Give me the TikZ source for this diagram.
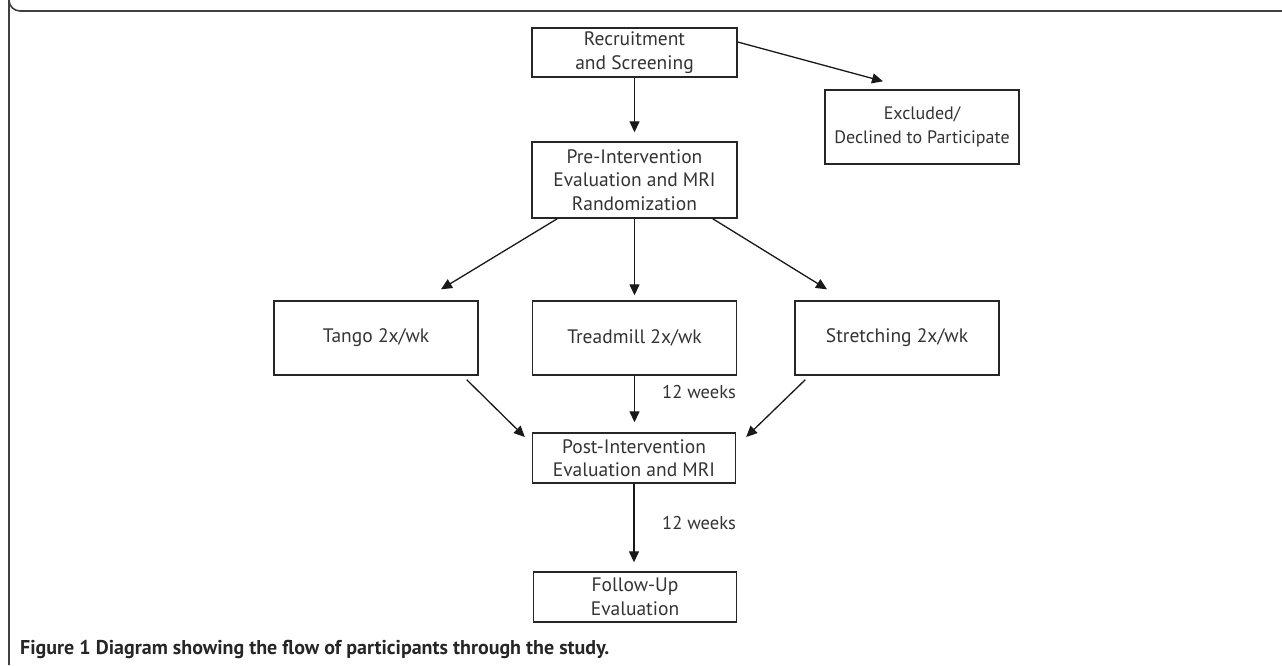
\documentclass[tikz,border=0pt]{standalone}
\usepackage{fontspec}
\setmainfont{PT Sans}
\usetikzlibrary{arrows.meta,calc}
\begin{document}
\begin{tikzpicture}[x=1pt,y=-1pt,
  box/.style={draw=black!85,line width=1.4pt,inner sep=0pt,align=center,
    font=\fontsize{19.5}{23.5}\selectfont,text=black!80},
  arr/.style={draw=black!90,line width=1.3pt,-{Triangle[length=11pt,width=10pt]}},
  lbl/.style={font=\fontsize{18.5}{20}\selectfont,text=black!80,inner sep=0pt,anchor=west},
  frame/.style={draw=black!75,line width=1.6pt}]
\useasboundingbox (0,0) rectangle (1282,665);
\draw[frame] (1282,11) -- (20,11) arc[start angle=90,end angle=180,radius=11] -- (9,665);
\node[box,minimum width=205pt,minimum height=49pt] (rec) at (634.5,52.5) {Recruitment\\and Screening};
\node[box,minimum width=194pt,minimum height=74pt,font=\fontsize{18}{23.5}\selectfont] (exc) at (922,127) {Excluded/\\Declined to Participate};
\node[box,minimum width=205pt,minimum height=76pt] (pre) at (634.5,180) {Pre-Intervention\\Evaluation and MRI\\Randomization};
\node[box,minimum width=204pt,minimum height=74pt] (tango) at (376,338) {Tango 2x/wk};
\node[box,minimum width=204pt,minimum height=74pt] (tread) at (634.5,338) {Treadmill 2x/wk};
\node[box,minimum width=204pt,minimum height=74pt] (stretch) at (897,338) {Stretching 2x/wk};
\node[box,minimum width=203pt,minimum height=50pt] (post) at (634,458) {Post-Intervention\\Evaluation and MRI};
\node[box,minimum width=203pt,minimum height=50pt] (fol) at (635,597) {Follow-Up\\Evaluation};
\node[lbl] (w1) at (662,392) {12 weeks};
\node[lbl] (w2) at (662,523) {12 weeks};
\node[anchor=base west,inner sep=0pt,font=\fontsize{20}{22}\selectfont\bfseries,text=black!85] (cap) at (20,654) {Figure 1 Diagram showing the flow of participants through the study.};
% free ends
\coordinate (recE) at ($(rec.east)+(0,-10.5)$);
\coordinate (excT) at ($(exc.north)+(-39,-8)$);
\coordinate (preL) at ($(pre.south west)+(26,0)$);
\coordinate (preR) at ($(pre.south east)+(-25,0)$);
\coordinate (tangoT) at ($(tango.north)+(65,-11)$);
\coordinate (stretchT) at ($(stretch.north)+(-70,-11)$);
\coordinate (tangoB) at ($(tango.south east)+(-12,4)$);
\coordinate (stretchB) at ($(stretch.south west)+(11,4)$);
\coordinate (postL) at ($(post.west)+(-7,-21)$);
\coordinate (postR) at ($(post.east)+(10,-21)$);
\draw[arr] (recE) -- (excT);
\draw[arr] (rec.south) -- ($(rec.south |- pre.north)+(0,-9)$);
\draw[arr] (pre.south) -- ($(pre.south |- tread.north)+(0,-5)$);
\draw[arr] (preL) -- (tangoT);
\draw[arr] (preR) -- (stretchT);
\draw[arr] (tread.south) -- ($(tread.south |- post.north)+(0,-10)$);
\draw[arr] (tangoB) -- (postL);
\draw[arr] (stretchB) -- (postR);
\draw[arr] (post.south) -- ($(post.south |- fol.north)+(0,-9)$);
\end{tikzpicture}
\end{document}
